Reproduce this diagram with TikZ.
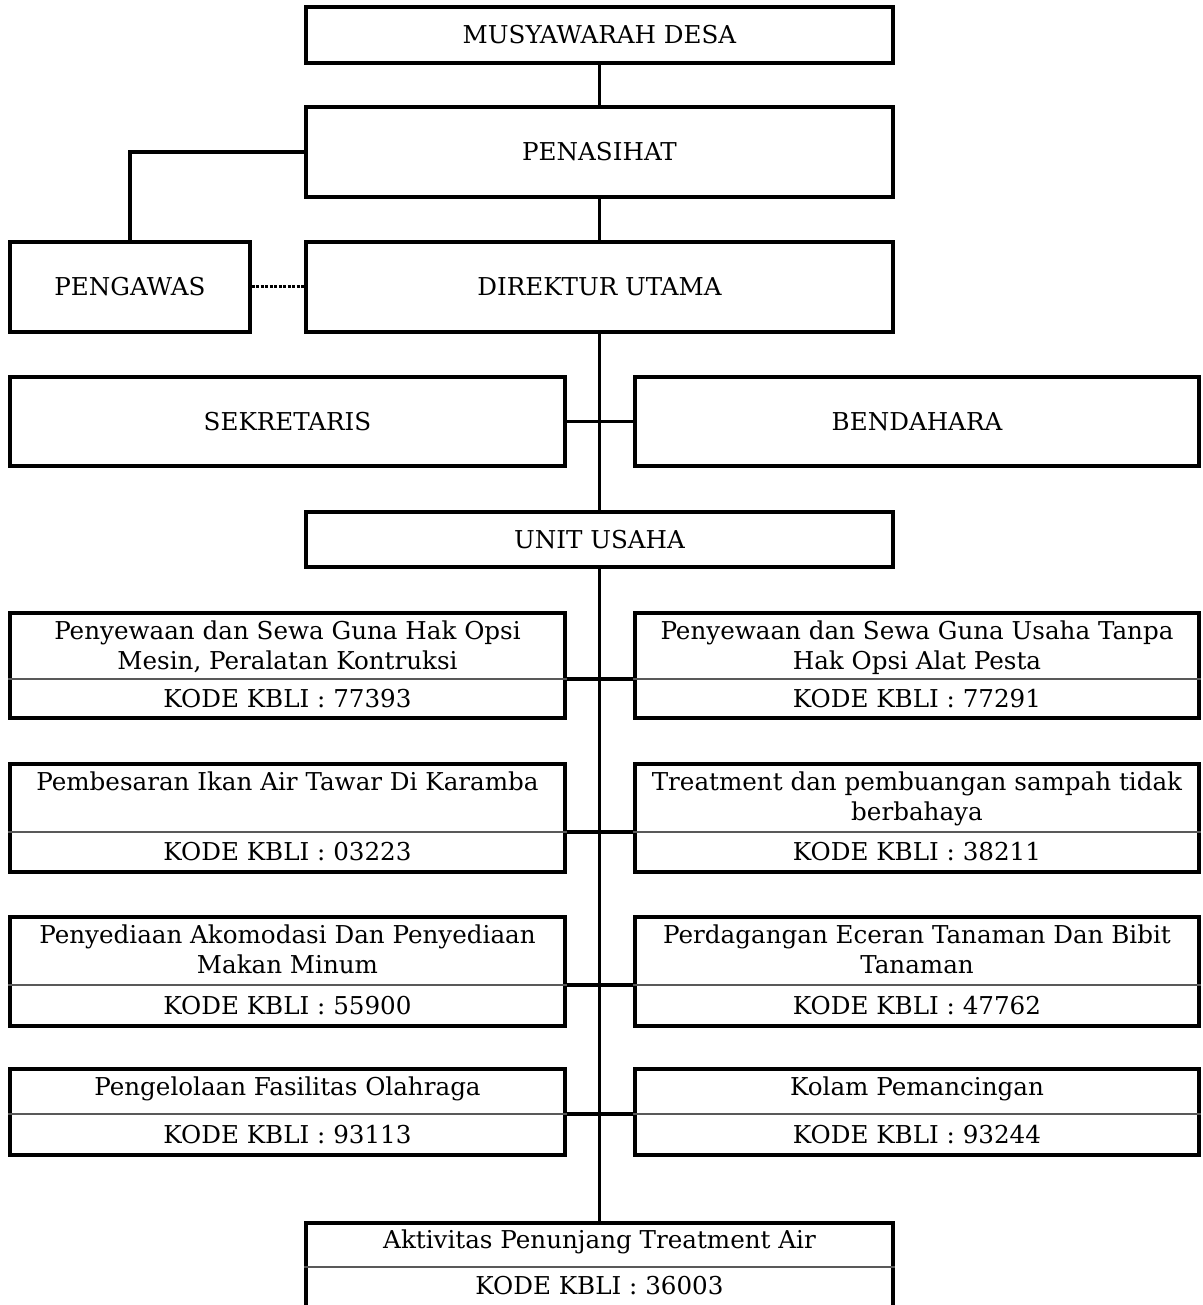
\documentclass[tikz,border=0pt]{standalone}
\usepackage{fontspec}
\setmainfont{DejaVu Serif}
\begin{document}
\begin{tikzpicture}[x=1pt,y=-1pt,
  box/.style={draw=black,line width=3.2pt,rectangle,inner sep=0pt,fill=white},
  txt/.style={inner sep=0pt,align=center,font=\fontsize{24.6}{30}\selectfont},
  toptxt/.style={txt,anchor=north},
  link/.style={draw=black,line width=3.2pt},
  split/.style={draw=black!65,line width=1.1pt}]
\useasboundingbox (0,0) rectangle (1202,1305);
\clip (0,0) rectangle (1202,1305);

\node[box,minimum width=587pt,minimum height=56pt] (md) at (599.5,35) {};
\node[txt] (mdt) at (md.center) {MUSYAWARAH DESA};
\node[box,minimum width=587pt,minimum height=90pt] (pen) at (599.5,152) {};
\node[txt] (pent) at (pen.center) {PENASIHAT};
\node[box,minimum width=240pt,minimum height=90pt] (pgw) at (130,287) {};
\node[txt] (pgwt) at (pgw.center) {PENGAWAS};
\node[box,minimum width=587pt,minimum height=90pt] (dir) at (599.5,287) {};
\node[txt] (dirt) at (dir.center) {DIREKTUR UTAMA};
\node[box,minimum width=555pt,minimum height=89pt] (sek) at (287.5,421.5) {};
\node[txt] (sekt) at (sek.center) {SEKRETARIS};
\node[box,minimum width=564pt,minimum height=89pt] (ben) at (917,421.5) {};
\node[txt] (bent) at (ben.center) {BENDAHARA};
\node[box,minimum width=587pt,minimum height=55pt] (uu) at (599.5,539.5) {};
\node[txt] (uut) at (uu.center) {UNIT USAHA};

% row 1
\node[box,minimum width=555pt,minimum height=105pt] (r1l) at (287.5,665.5) {};
\node[box,minimum width=564pt,minimum height=105pt] (r1r) at (917,665.5) {};
\coordinate (s1) at (600,679);
\draw[split] (r1l.west |- s1) -- (r1l.east |- s1);
\draw[split] (r1r.west |- s1) -- (r1r.east |- s1);
\node[toptxt] (r1lt) at (287.5,621) {Penyewaan dan Sewa Guna Hak Opsi\\Mesin, Peralatan Kontruksi};
\node[txt] (r1lk) at (287.5,698.5) {KODE KBLI : 77393};
\node[toptxt] (r1rt) at (917,621) {Penyewaan dan Sewa Guna Usaha Tanpa\\Hak Opsi Alat Pesta};
\node[txt] (r1rk) at (917,698.5) {KODE KBLI : 77291};

% row 2
\node[box,minimum width=555pt,minimum height=108pt] (r2l) at (287.5,818) {};
\node[box,minimum width=564pt,minimum height=108pt] (r2r) at (917,818) {};
\coordinate (s2) at (600,832);
\draw[split] (r2l.west |- s2) -- (r2l.east |- s2);
\draw[split] (r2r.west |- s2) -- (r2r.east |- s2);
\node[toptxt] (r2lt) at (287.5,772) {Pembesaran Ikan Air Tawar Di Karamba};
\node[txt] (r2lk) at (287.5,852) {KODE KBLI : 03223};
\node[toptxt] (r2rt) at (917,772) {Treatment dan pembuangan sampah tidak\\berbahaya};
\node[txt] (r2rk) at (917,852) {KODE KBLI : 38211};

% row 3
\node[box,minimum width=555pt,minimum height=109pt] (r3l) at (287.5,971.5) {};
\node[box,minimum width=564pt,minimum height=109pt] (r3r) at (917,971.5) {};
\coordinate (s3) at (600,985);
\draw[split] (r3l.west |- s3) -- (r3l.east |- s3);
\draw[split] (r3r.west |- s3) -- (r3r.east |- s3);
\node[toptxt] (r3lt) at (287.5,925) {Penyediaan Akomodasi Dan Penyediaan\\Makan Minum};
\node[txt] (r3lk) at (287.5,1005.5) {KODE KBLI : 55900};
\node[toptxt] (r3rt) at (917,925) {Perdagangan Eceran Tanaman Dan Bibit\\Tanaman};
\node[txt] (r3rk) at (917,1005.5) {KODE KBLI : 47762};

% row 4
\node[box,minimum width=555pt,minimum height=86pt] (r4l) at (287.5,1112) {};
\node[box,minimum width=564pt,minimum height=86pt] (r4r) at (917,1112) {};
\coordinate (s4) at (600,1114);
\draw[split] (r4l.west |- s4) -- (r4l.east |- s4);
\draw[split] (r4r.west |- s4) -- (r4r.east |- s4);
\node[toptxt] (r4lt) at (287.5,1077) {Pengelolaan Fasilitas Olahraga};
\node[txt] (r4lk) at (287.5,1134.5) {KODE KBLI : 93113};
\node[toptxt] (r4rt) at (917,1077) {Kolam Pemancingan};
\node[txt] (r4rk) at (917,1134.5) {KODE KBLI : 93244};

% last box (cut off at the bottom)
\node[box,minimum width=587pt,minimum height=110pt] (akt) at (599.5,1278) {};
\coordinate (s5) at (600,1267);
\draw[split] (akt.west |- s5) -- (akt.east |- s5);
\node[toptxt] (aktt) at (599.5,1230) {Aktivitas Penunjang Treatment Air};
\node[txt] (aktk) at (599.5,1286) {KODE KBLI : 36003};

% connectors
\draw[link] (md.south) -- (pen.north);
\draw[link] (pen.south) -- (dir.north);
\draw[link] (pen.west) -| (pgw.north);
\draw[link,dash pattern=on 3pt off 1.5pt,line width=3pt] (pgw.east) -- (dir.west);
\draw[link] (dir.south) -- (uu.north);
\draw[link] (uu.south) -- (akt.north);
\draw[link] (sek.east) -- (ben.west);
\draw[link] (r1l.east |- s1) -- (r1r.west |- s1);
\draw[link] (r2l.east |- s2) -- (r2r.west |- s2);
\draw[link] (r3l.east |- s3) -- (r3r.west |- s3);
\draw[link] (r4l.east |- s4) -- (r4r.west |- s4);
\end{tikzpicture}
\end{document}
